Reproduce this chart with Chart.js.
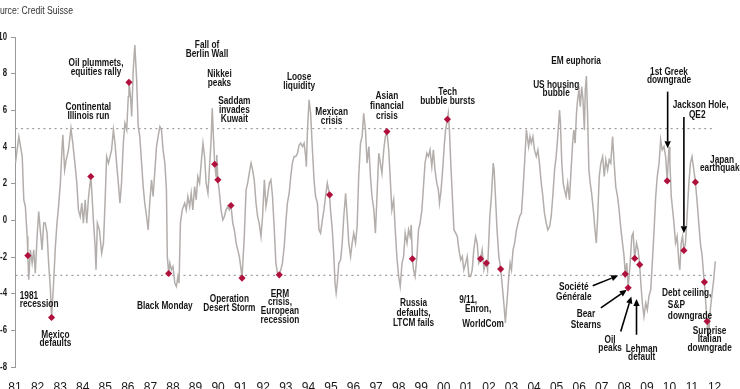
<!DOCTYPE html>
<html><head><meta charset="utf-8">
<script src="https://cdn.jsdelivr.net/npm/chart.js@4.4.1/dist/chart.umd.min.js"></script>
<style>html,body{margin:0;padding:0;background:#fff;overflow:hidden}#wrap{position:relative;width:740px;height:389px}</style>
</head><body><div id="wrap"><canvas id="c" width="740" height="389"></canvas></div>
<script>
// ---- line series (decimal year, index value) ----
const dates = [
1981.02,1981.17,1981.32,1981.39,1981.46,1981.54,1981.57,1981.61,1981.68,1981.76,1981.83,1981.90,1981.98,1982.05,1982.12,1982.20,1982.27,1982.34,1982.42,1982.49,1982.57,1982.62,1982.71,1982.79,1982.86,1982.93,
1983.01,1983.08,1983.12,1983.20,1983.27,1983.37,1983.48,1983.56,1983.67,1983.74,1983.81,1983.89,1983.96,1984.03,1984.11,1984.18,1984.26,1984.36,1984.40,1984.48,1984.55,1984.59,1984.65,1984.74,1984.84,1984.92,1984.99,
1985.06,1985.14,1985.21,1985.28,1985.36,1985.43,1985.50,1985.58,1985.65,1985.72,1985.80,1985.87,1985.95,1986.02,1986.05,1986.12,1986.17,1986.24,1986.31,1986.39,1986.46,1986.53,1986.61,1986.68,1986.75,1986.83,1986.90,1986.97,
1987.05,1987.12,1987.20,1987.27,1987.34,1987.42,1987.49,1987.56,1987.64,1987.71,1987.75,1987.81,1987.86,1987.93,1988.00,1988.08,1988.15,1988.22,1988.27,1988.33,1988.41,1988.52,1988.59,1988.66,1988.74,1988.81,1988.88,1988.96,
1989.03,1989.10,1989.18,1989.25,1989.33,1989.40,1989.47,1989.55,1989.62,1989.69,1989.74,1989.80,1989.85,1989.91,1989.94,1989.99,1990.06,1990.13,1990.21,1990.28,1990.35,1990.43,1990.50,1990.57,1990.65,1990.72,1990.80,1990.87,1990.94,
1991.02,1991.06,1991.16,1991.24,1991.31,1991.38,1991.46,1991.53,1991.60,1991.68,1991.75,1991.82,1991.90,1991.97,1992.05,1992.12,1992.19,1992.27,1992.34,1992.41,1992.49,1992.56,1992.63,1992.71,1992.78,1992.85,1992.93,
1993.00,1993.07,1993.15,1993.22,1993.29,1993.37,1993.44,1993.52,1993.59,1993.66,1993.74,1993.81,1993.88,1993.91,1993.96,1994.03,1994.10,1994.18,1994.25,1994.32,1994.40,1994.47,1994.54,1994.62,1994.69,1994.76,1994.84,1994.94,1994.98,
1995.06,1995.13,1995.18,1995.23,1995.28,1995.35,1995.43,1995.50,1995.57,1995.65,1995.72,1995.79,1995.87,1995.94,1996.01,1996.09,1996.16,1996.23,1996.31,1996.38,1996.45,1996.53,1996.60,1996.68,1996.75,1996.82,1996.90,1996.97,
1997.04,1997.12,1997.19,1997.26,1997.34,1997.41,1997.48,1997.56,1997.63,1997.70,1997.78,1997.85,1997.92,1998.00,1998.07,1998.15,1998.22,1998.29,1998.37,1998.44,1998.51,1998.56,1998.61,1998.66,1998.73,1998.81,1998.88,1998.95,
1999.03,1999.10,1999.17,1999.25,1999.32,1999.39,1999.47,1999.54,1999.61,1999.69,1999.76,1999.81,1999.88,1999.95,2000.03,2000.08,2000.16,2000.20,2000.25,2000.31,2000.38,2000.45,2000.53,2000.60,2000.67,2000.75,2000.82,2000.89,2000.97,
2001.04,2001.11,2001.19,2001.26,2001.33,2001.41,2001.48,2001.55,2001.63,2001.70,2001.78,2001.85,2001.89,2001.94,2001.99,2002.04,2002.11,2002.19,2002.23,2002.29,2002.36,2002.44,2002.52,2002.58,2002.66,2002.73,2002.77,2002.82,2002.88,2002.94,
2003.00,2003.07,2003.14,2003.22,2003.29,2003.36,2003.44,2003.51,2003.58,2003.66,2003.70,2003.76,2003.82,2003.88,2003.95,2004.02,2004.10,2004.17,2004.24,2004.32,2004.39,2004.46,2004.54,2004.61,2004.69,2004.76,2004.83,2004.91,2004.98,
2005.05,2005.13,2005.17,2005.23,2005.29,2005.35,2005.42,2005.49,2005.57,2005.64,2005.71,2005.76,2005.82,2005.88,2005.93,2005.99,2006.05,2006.11,2006.17,2006.23,2006.27,2006.32,2006.37,2006.43,2006.49,2006.55,2006.64,2006.70,2006.76,2006.82,2006.89,2006.96,
2007.04,2007.11,2007.18,2007.26,2007.33,2007.40,2007.48,2007.55,2007.62,2007.70,2007.77,2007.85,2007.92,2007.99,2008.04,2008.11,2008.17,2008.26,2008.33,2008.39,2008.46,2008.54,2008.61,2008.68,2008.73,2008.80,2008.87,2008.95,
2009.02,2009.09,2009.17,2009.24,2009.32,2009.39,2009.46,2009.54,2009.61,2009.68,2009.76,2009.83,2009.90,2009.98,2010.02,2010.08,2010.14,2010.20,2010.27,2010.34,2010.42,2010.46,2010.52,2010.58,2010.64,2010.71,2010.78,2010.86,2010.93,
2011.00,2011.08,2011.15,2011.23,2011.30,2011.37,2011.45,2011.52,2011.55,2011.61,2011.67,2011.70,2011.74,2011.81,2011.89,2011.96,2012.03
];
const values = [
3.12,4.57,3.48,1.12,0.75,-0.88,-1.92,-3.24,-1.61,-2.33,-1.61,-2.88,-0.88,0.48,-0.52,-1.61,-0.15,-0.15,-0.70,-2.33,-3.79,-5.30,-3.42,-1.43,-0.15,0.75,
2.03,3.84,4.66,2.75,3.30,3.84,5.02,4.21,2.93,2.03,0.57,0.21,0.94,-0.15,1.12,-0.15,1.30,2.39,1.66,-0.15,-1.43,-2.70,-0.15,-0.52,-1.79,-1.24,0.94,
3.48,3.12,3.48,3.84,4.93,4.21,3.12,2.03,0.94,2.03,4.21,5.30,4.93,6.75,7.53,6.75,5.66,8.20,9.56,7.66,5.11,4.57,3.12,1.84,0.94,0.21,-0.52,0.94,
2.21,1.30,2.75,4.02,4.57,5.11,4.93,3.84,3.12,1.66,-1.97,-2.90,-2.33,-2.70,-2.52,-3.42,-3.61,-3.06,-3.42,-0.15,0.57,0.94,0.57,1.30,0.75,1.48,0.57,1.84,
1.12,2.39,2.03,3.12,4.21,3.48,2.03,1.48,2.93,4.39,6.11,4.39,3.06,2.39,3.57,2.21,1.48,0.57,0.03,0.21,0.57,0.75,0.57,0.81,-0.15,-0.52,-1.24,-1.61,-1.97,
-2.70,-3.15,-0.88,1.66,2.03,2.57,3.12,2.75,2.21,0.94,0.21,-0.15,-0.88,0.21,2.21,0.75,1.30,2.03,2.21,1.30,-0.52,-2.33,-2.88,-2.97,-2.70,-2.33,-1.43,
-0.15,0.94,1.48,2.39,3.12,3.48,3.48,3.66,4.11,4.21,4.02,4.21,3.48,2.93,4.93,6.57,5.84,3.84,2.21,1.30,0.94,-0.52,-0.70,0.03,0.57,1.30,2.03,1.39,0.57,
-0.52,-1.97,-3.42,-3.97,-3.42,-2.33,-2.15,-1.24,0.21,1.48,0.21,-1.24,-1.97,-1.24,-0.70,-1.24,-0.34,2.39,4.21,4.57,5.84,4.93,3.12,4.02,2.39,1.30,0.57,-0.70,
1.30,3.66,3.12,2.57,3.84,4.57,4.84,3.84,2.21,0.57,1.12,-0.52,-1.97,-3.06,-3.61,-2.33,-1.97,-0.70,-1.24,-0.52,-0.88,-0.25,-2.10,-2.70,-3.06,-1.97,-0.52,-0.15,
0.57,1.84,3.12,3.66,3.48,3.84,2.93,3.84,2.75,2.03,1.66,0.94,1.66,2.75,4.21,4.93,5.51,5.84,4.93,3.12,1.30,-0.52,-0.70,-0.88,-1.61,-2.15,-1.97,-2.70,-2.33,
-1.97,-3.06,-3.06,-2.70,-1.61,-0.88,-1.24,-2.33,-2.10,-1.61,-2.70,-2.33,-2.33,-2.70,-1.24,0.21,1.30,3.12,2.75,1.30,-0.52,-1.97,-2.66,-3.42,-4.51,-5.60,-4.88,-4.15,-3.06,-2.33,
-2.70,-1.61,-1.24,-0.52,-0.15,0.21,0.39,1.66,3.12,4.93,4.57,4.02,4.57,4.21,4.57,3.84,3.48,3.84,3.12,2.03,1.30,0.39,-0.15,-0.52,-0.34,0.21,1.30,2.75,3.48,
4.57,6.02,5.30,3.12,2.03,1.66,1.30,2.03,1.12,2.75,4.21,4.93,4.21,5.84,6.57,7.11,6.20,7.29,6.57,4.93,7.11,7.87,5.84,2.75,2.03,1.48,0.39,-0.52,-1.24,0.21,2.39,3.12,
3.48,2.39,3.30,2.75,3.30,3.12,4.57,3.12,1.84,1.30,0.57,-0.52,-1.24,-1.97,-2.93,-2.33,-3.68,-2.33,-0.88,-0.70,-2.08,-1.24,-1.61,-2.42,-3.42,-4.51,-5.24,-4.51,
-4.88,-4.15,-3.79,-2.33,-0.52,1.30,2.39,3.12,4.39,3.84,4.02,3.48,2.15,4.02,3.12,1.30,0.57,-0.15,-1.24,-0.88,-2.33,-2.70,-1.24,-0.88,-1.64,-1.24,0.21,2.03,3.12,
3.48,2.75,2.08,0.94,-0.15,-1.24,-1.97,-3.06,-3.37,-4.51,-5.51,-6.51,-6.15,-4.88,-3.97,-3.24,-2.24
];

// ---- marked events ----
const eventNames  = ['1981 recession','Mexico defaults','Continental Illinois run','Oil plummets','Black Monday','Fall of Berlin Wall','Nikkei peaks','Saddam invades Kuwait','Operation Desert Storm','ERM crisis','Mexican crisis','Asian financial crisis','Russia defaults','Tech bubble bursts','9/11','Enron','WorldCom','Societe Generale','Bear Stearns','Oil peaks','Lehman default','1st Greek downgrade','Jackson Hole','Japan earthquake','Debt ceiling','Italian downgrade'];
const eventDates  = [1981.57,1982.62,1984.36,1986.05,1987.81,1989.85,1989.99,1990.57,1991.06,1992.71,1994.94,1997.48,1998.61,2000.16,2001.63,2001.89,2002.52,2008.04,2008.17,2008.46,2008.68,2009.90,2010.64,2011.15,2011.55,2011.67];
const eventValues = [-1.92,-5.30,2.39,7.53,-2.90,3.06,2.21,0.81,-3.15,-2.97,1.39,4.84,-2.10,5.51,-2.10,-2.33,-2.66,-2.93,-3.68,-2.08,-2.42,2.15,-1.64,2.08,-3.37,-5.51];

// ---- axes / thresholds ----
const yMin = -8, yMax = 10, yStep = 2;
const xFirstYear = 1981, xLastYear = 2012;
const thresholds = [5, -3];

// ---- annotation texts (anchored in data units) ----
const notes = [
 {t:['1981','recession'], x:1981.21, y:-4.11, lh:8.3, a:'left'},
 {t:['Mexico','defaults'], x:1982.79, y:-6.24, lh:8.3},
 {t:['Oil plummets,','equities rally'], x:1984.59, y:8.57, lh:8.4},
 {t:['Continental','Illinois run'], x:1984.25, y:6.17, lh:8.4},
 {t:['Fall of','Berlin Wall'], x:1989.51, y:9.54, lh:9},
 {t:['Nikkei','peaks'], x:1990.06, y:7.98, lh:9},
 {t:['Saddam','invades','Kuwait'], x:1990.72, y:6.53, lh:9.3},
 {t:['Black Monday'], x:1987.64, y:-4.70},
 {t:['Operation','Desert Storm'], x:1990.50, y:-4.29, lh:9},
 {t:['ERM','crisis,','European','recession'], x:1992.74, y:-4.01, lh:8.7},
 {t:['Loose','liquidity'], x:1993.59, y:7.80, lh:8.4},
 {t:['Mexican','crisis'], x:1995.03, y:5.90, lh:8.7},
 {t:['Asian','financial','crisis'], x:1997.48, y:6.75, lh:10},
 {t:['Tech','bubble bursts'], x:2000.17, y:6.99, lh:8.7},
 {t:['Russia','defaults,','LTCM fails'], x:1998.66, y:-4.51, lh:10},
 {t:['9/11,'], x:2001.08, y:-4.33},
 {t:['Enron,'], x:2001.52, y:-4.82},
 {t:['WorldCom'], x:2001.74, y:-5.64},
 {t:['US housing','bubble'], x:2004.98, y:7.38, lh:8.3},
 {t:['EM euphoria'], x:2005.86, y:8.69},
 {t:['1st Greek','downgrade'], x:2009.98, y:8.11, lh:8.3},
 {t:['Jackson Hole,'], x:2011.38, y:6.29},
 {t:['QE2'], x:2011.23, y:5.75},
 {t:['Japan','earthquake'], x:2012.33, y:3.30, lh:8.3},
 {t:['Société','Générale'], x:2005.76, y:-3.64, lh:10.4},
 {t:['Bear','Stearns'], x:2006.30, y:-5.11, lh:10.7},
 {t:['Oil','peaks'], x:2007.37, y:-6.51, lh:8},
 {t:['Lehman','default'], x:2008.77, y:-7.02, lh:8.4},
 {t:['Debt ceiling,'], x:2009.67, y:-3.97, a:'left'},
 {t:['S&P','downgrade'], x:2009.93, y:-4.64, lh:10.5, a:'left'},
 {t:['Surprise','Italian','downgrade'], x:2011.78, y:-6.02, lh:8.7}
];
const arrows = [
 {from:[2006.60,-3.57], to:[2007.73,-3.01]},
 {from:[2006.96,-4.78], to:[2008.11,-3.79]},
 {from:[2007.84,-6.06], to:[2008.31,-4.15]},
 {from:[2008.54,-6.24], to:[2008.54,-4.29]},
 {from:[2009.92,7.02],  to:[2009.92,3.93]},
 {from:[2010.64,5.64],  to:[2010.64,-0.70]}
];
const sourceText = 'Source: Credit Suisse';

const FONT = '"Liberation Sans", Arial, sans-serif';

const linePts = dates.map((d,i)=>({x:d, y:values[i]}));
const eventPts = eventDates.map((d,i)=>({x:d, y:eventValues[i]}));
const thrSets = thresholds.map(v=>({
  type:'line', data:[{x:dates[0],y:v},{x:dates[dates.length-1],y:v}],
  borderColor:'#8a8a8a', borderWidth:1, borderDash:[2,3.6], pointRadius:0, order:3
}));

function txt(ctx, s, px, py, align, sx){
  ctx.save(); ctx.translate(px, py); ctx.scale(sx,1);
  ctx.textAlign = align; ctx.textBaseline='middle'; ctx.fillText(s,0,0); ctx.restore();
}

const annot = {
  id:'annot',
  afterDatasetsDraw(chart){
    const ctx = chart.ctx, xs = chart.scales.x, ys = chart.scales.y;
    ctx.save();
    // annotations
    ctx.font = 'bold 10.5px ' + FONT; ctx.fillStyle = '#161616';
    notes.forEach(n=>{
      const px = xs.getPixelForValue(n.x), py = ys.getPixelForValue(n.y);
      const lh = n.lh || 9;
      n.t.forEach((s,i)=>txt(ctx, s, px, py + i*lh, n.a || 'center', 0.79));
    });
    // arrows
    ctx.strokeStyle = '#000'; ctx.fillStyle = '#000'; ctx.lineWidth = 1.6;
    arrows.forEach(a=>{
      const x1 = xs.getPixelForValue(a.from[0]), y1 = ys.getPixelForValue(a.from[1]);
      const x2 = xs.getPixelForValue(a.to[0]), y2 = ys.getPixelForValue(a.to[1]);
      const ang = Math.atan2(y2-y1, x2-x1), L = 7, W = 3.2;
      const bx = x2 - L*Math.cos(ang), by = y2 - L*Math.sin(ang);
      ctx.beginPath(); ctx.moveTo(x1,y1); ctx.lineTo(bx,by); ctx.stroke();
      ctx.beginPath(); ctx.moveTo(x2,y2);
      ctx.lineTo(bx + W*Math.sin(ang), by - W*Math.cos(ang));
      ctx.lineTo(bx - W*Math.sin(ang), by + W*Math.cos(ang));
      ctx.closePath(); ctx.fill();
    });
    // y tick labels (from the scale's ticks)
    ctx.font = 'bold 10px ' + FONT; ctx.fillStyle = '#1a1a1a';
    ys.ticks.forEach(t=>txt(ctx, String(t.value), ys.right - 8, ys.getPixelForValue(t.value), 'right', 0.78));
    // source
    ctx.font = '10px ' + FONT; ctx.fillStyle = '#333';
    txt(ctx, sourceText, 73, 11, 'right', 0.865);
    ctx.restore();
  }
};

new Chart(document.getElementById('c'), {
  type:'line',
  data:{ datasets:[
    {type:'scatter', data:eventPts, pointStyle:'rectRot', pointRadius:3.6, pointHoverRadius:3.6,
     backgroundColor:'#b0103c', borderColor:'#b0103c', borderWidth:0, order:1},
    {data:linePts, borderColor:'#b3aeab', borderWidth:1.5, pointRadius:0, tension:0, order:2},
    ...thrSets
  ]},
  options:{
    responsive:false, animation:false, devicePixelRatio:1,
    layout:{padding:{top:37, right:0, bottom:0, left:0}},
    plugins:{legend:{display:false}, tooltip:{enabled:false}},
    scales:{
      x:{type:'linear', min:xFirstYear, max:xFirstYear + 725/22.68,
        afterFit(s){ s.height = 22; },
        afterBuildTicks(s){ s.ticks = []; for(let y=xFirstYear;y<=xLastYear;y++) s.ticks.push({value:y}); },
        grid:{display:false}, border:{display:false},
        ticks:{autoSkip:false, maxRotation:0, padding:5, color:'#1a1a1a', font:{family:FONT, size:12},
          callback:v=>String(v%100).padStart(2,'0')}
      },
      y:{min:yMin, max:yMax,
        afterFit(s){ s.width = 15; },
        grid:{display:true, drawOnChartArea:false, drawTicks:true, tickLength:4, color:'#999'},
        border:{display:true, color:'#999', width:1},
        ticks:{stepSize:yStep, padding:4, color:'rgba(0,0,0,0)', font:{family:FONT, size:10}}
      }
    }
  },
  plugins:[annot]
});
</script></body></html>
